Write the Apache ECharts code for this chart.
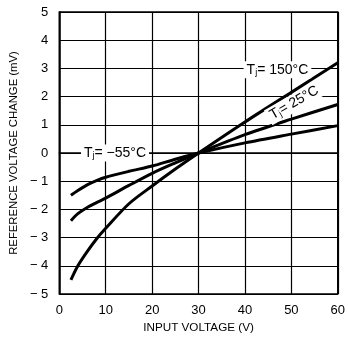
<!DOCTYPE html>
<html><head><meta charset="utf-8">
<script src="https://cdn.jsdelivr.net/npm/echarts@6/dist/echarts.min.js"></script>
<style>html,body{margin:0;padding:0;background:#fff}#c{width:348px;height:339px}</style>
</head><body><div id="c"></div>
<script>
const xTicks = [0, 10, 20, 30, 40, 50, 60];
const yTicks = [-5, -4, -3, -2, -1, 0, 1, 2, 3, 4, 5];
const vin = [2.5, 4, 6, 8, 10, 15, 20, 25, 30, 40, 50, 60];
const t150 = [-4.5, -4.0, -3.5, -3.05, -2.67, -1.8, -1.17, -0.57, 0, 1.1, 2.15, 3.2];
const t25  = [-2.4, -2.15, -1.93, -1.76, -1.6, -1.15, -0.72, -0.35, 0, 0.65, 1.2, 1.72];
const tm55 = [-1.5, -1.33, -1.13, -0.98, -0.86, -0.65, -0.46, -0.22, 0, 0.36, 0.67, 0.97];
const labels = [
  {name: '150', x: 47, y: 2.95, rotate: 0},
  {name: '25', x: 50.6, y: 1.78, rotate: 30},
  {name: '−55', x: 12.0, y: 0, rotate: 0}
];
const FONT = "'Liberation Sans','Arial',sans-serif";
function pairs(ys){ return vin.map((v,i)=>[v, ys[i]]); }
function mp(l){
  return {
    coord: [l.x, l.y], symbol: 'circle', symbolSize: 1,
    itemStyle: {color: 'rgba(0,0,0,0)'},
    label: {
      show: true, position: 'inside', rotate: l.rotate,
      formatter: '{a|T}{b|j}{a|= ' + l.name + '°C}',
      backgroundColor: '#fff', padding: [1, 3],
      rich: {
        a: {fontFamily: FONT, fontSize: 14, color: '#000'},
        b: {fontFamily: FONT, fontSize: 9, color: '#000', verticalAlign: 'bottom', padding: [6,0,0,0]}
      }
    }
  };
}
const lineStyle = {color: '#000', width: 3};
const chart = echarts.init(document.getElementById('c'), null, {renderer: 'canvas'});
chart.setOption({
  animation: false,
  backgroundColor: '#fff',
  grid: {left: 54, right: 6, top: 12, bottom: 45, show: true, borderColor: '#000', borderWidth: 1.5},
  xAxis: {
    type: 'value', min: xTicks[0], max: xTicks[xTicks.length-1], interval: 10,
    name: 'INPUT VOLTAGE (V)', nameLocation: 'middle', nameGap: 26,
    nameTextStyle: {fontFamily: FONT, fontSize: 11.7, color: '#000'},
    axisLine: {show: true, lineStyle: {color: '#000', width: 1.5}},
    axisTick: {show: false},
    axisLabel: {fontFamily: FONT, fontSize: 13, color: '#000', margin: 10},
    splitLine: {show: true, lineStyle: {color: '#000', width: 1.2}}
  },
  yAxis: {
    type: 'value', min: yTicks[0], max: yTicks[yTicks.length-1], interval: 1,
    name: 'REFERENCE VOLTAGE CHANGE (mV)', nameLocation: 'middle', nameGap: 39,
    nameTextStyle: {fontFamily: FONT, fontSize: 11.3, color: '#000'},
    axisLine: {show: true, lineStyle: {color: '#000', width: 1.5}},
    axisTick: {show: false},
    axisLabel: {fontFamily: FONT, fontSize: 13, color: '#000', margin: 11,
      formatter: v => v < 0 ? '− ' + Math.abs(v) : String(v)},
    splitLine: {show: true, lineStyle: {color: '#000', width: 1.2}}
  },
  series: [
    {type: 'line', data: pairs(t150), smooth: 0.3, symbol: 'none', lineStyle,
     markPoint: {data: [mp(labels[0])]}},
    {type: 'line', data: pairs(t25), smooth: 0.3, symbol: 'none', lineStyle,
     markPoint: {data: [mp(labels[1])]}},
    {type: 'line', data: pairs(tm55), smooth: 0.3, symbol: 'none', lineStyle,
     markPoint: {data: [mp(labels[2])]}}
  ]
});
</script></body></html>
